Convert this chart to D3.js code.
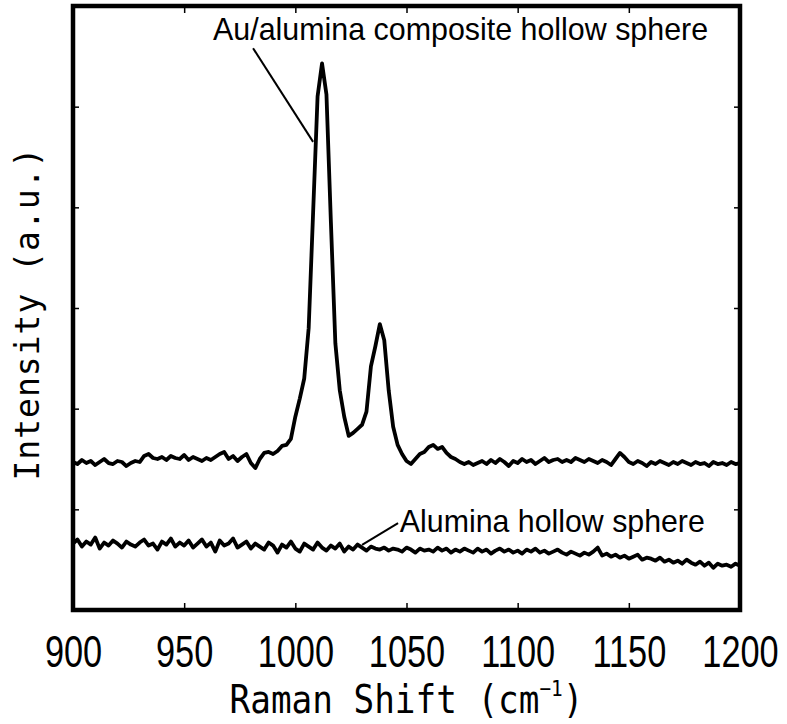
<!DOCTYPE html>
<html>
<head>
<meta charset="utf-8">
<script src="https://cdn.jsdelivr.net/npm/d3@7"></script>
<style>
  body { margin: 0; background: #fff; }
</style>
</head>
<body>
<div id="chart"></div>
<script>
const margin = {top: 6, right: 47, bottom: 114, left: 73},
      width = 787 - margin.left - margin.right,
      height = 724 - margin.top - margin.bottom;

// Raman shift grid (cm-1), 2 cm-1 steps
const ramanShift = [
  900,902,904,906,908,910,912,914,916,918,
  920,922,924,926,928,930,932,934,936,938,
  940,942,944,946,948,950,952,954,956,958,
  960,962,964,966,968,970,972,974,976,978,
  980,982,984,986,988,990,992,994,996,998,
  1000,1002,1004,1006,1008,1010,1012,1014,1016,1018,
  1020,1022,1024,1026,1028,1030,1032,1034,1036,1038,
  1040,1042,1044,1046,1048,1050,1052,1054,1056,1058,
  1060,1062,1064,1066,1068,1070,1072,1074,1076,1078,
  1080,1082,1084,1086,1088,1090,1092,1094,1096,1098,
  1100,1102,1104,1106,1108,1110,1112,1114,1116,1118,
  1120,1122,1124,1126,1128,1130,1132,1134,1136,1138,
  1140,1142,1144,1146,1148,1150,1152,1154,1156,1158,
  1160,1162,1164,1166,1168,1170,1172,1174,1176,1178,
  1180,1182,1184,1186,1188,1190,1192,1194,1196,1198,
  1200
];

// Au/alumina composite hollow sphere (a.u.)
const auAlumina = [
  1.47,1.45,1.49,1.46,1.48,1.44,1.47,1.50,1.46,1.45,
  1.48,1.47,1.43,1.46,1.48,1.47,1.53,1.55,1.51,1.50,
  1.52,1.49,1.53,1.51,1.50,1.54,1.49,1.52,1.50,1.48,
  1.51,1.49,1.52,1.55,1.57,1.50,1.53,1.48,1.52,1.55,
  1.46,1.41,1.50,1.56,1.57,1.55,1.58,1.63,1.64,1.70,
  1.92,2.10,2.30,2.80,3.95,5.10,5.43,5.12,3.85,2.65,
  2.18,1.92,1.73,1.76,1.80,1.84,1.97,2.42,2.62,2.84,
  2.68,2.18,1.82,1.64,1.55,1.48,1.45,1.50,1.55,1.57,
  1.62,1.64,1.60,1.62,1.56,1.52,1.50,1.47,1.45,1.47,
  1.44,1.46,1.48,1.45,1.49,1.46,1.50,1.47,1.43,1.48,
  1.46,1.50,1.47,1.49,1.45,1.48,1.51,1.47,1.49,1.50,
  1.47,1.49,1.47,1.51,1.49,1.47,1.50,1.48,1.46,1.49,
  1.47,1.44,1.50,1.56,1.52,1.47,1.45,1.48,1.46,1.43,
  1.47,1.45,1.48,1.46,1.44,1.47,1.45,1.48,1.46,1.44,
  1.47,1.45,1.46,1.43,1.47,1.45,1.46,1.44,1.47,1.45,
  1.46
];

// Alumina hollow sphere (a.u.)
const alumina = [
  0.66,0.70,0.63,0.68,0.65,0.72,0.61,0.67,0.64,0.69,
  0.66,0.62,0.68,0.65,0.63,0.67,0.70,0.64,0.66,0.60,
  0.68,0.65,0.71,0.63,0.67,0.64,0.69,0.62,0.66,0.70,
  0.63,0.67,0.58,0.69,0.64,0.66,0.71,0.62,0.65,0.68,
  0.61,0.66,0.63,0.60,0.67,0.64,0.57,0.65,0.62,0.68,
  0.61,0.58,0.66,0.63,0.60,0.67,0.62,0.59,0.64,0.61,
  0.66,0.58,0.63,0.60,0.65,0.62,0.59,0.63,0.61,0.60,
  0.62,0.59,0.61,0.60,0.58,0.62,0.60,0.57,0.61,0.59,
  0.60,0.58,0.62,0.59,0.61,0.57,0.60,0.58,0.61,0.59,
  0.57,0.61,0.58,0.60,0.56,0.59,0.61,0.58,0.60,0.57,
  0.59,0.56,0.60,0.58,0.61,0.57,0.59,0.56,0.58,0.60,
  0.57,0.55,0.58,0.56,0.54,0.57,0.55,0.58,0.62,0.54,
  0.56,0.53,0.55,0.52,0.54,0.51,0.53,0.55,0.50,0.52,
  0.51,0.49,0.52,0.48,0.50,0.47,0.49,0.46,0.50,0.47,
  0.45,0.48,0.44,0.47,0.42,0.46,0.44,0.45,0.43,0.46,
  0.44
];

const xTicks = [900, 950, 1000, 1050, 1100, 1150, 1200];
const yTicks = [1, 2, 3, 4, 5];

// labels: text, anchor point (shift, intensity), leader line ends
const labels = [
  {text: "Au/alumina composite hollow sphere", x: 963, y: 5.66, len: 495,
   line: [[981, 5.58], [1008, 4.65]]},
  {text: "Alumina hollow sphere", x: 1047, y: 0.775, len: 305,
   line: [[1046.2, 0.864], [1030, 0.646]]}
];

const svg = d3.select("#chart")
  .append("svg")
  .attr("width", width + margin.left + margin.right)
  .attr("height", height + margin.top + margin.bottom)
  .append("g")
  .attr("transform", `translate(${margin.left},${margin.top})`);

const x = d3.scaleLinear().domain([900, 1200]).range([0, width]);
const y = d3.scaleLinear().domain([0, 6]).range([height, 0]);

// spectra
const line = d3.line()
  .x((d, i) => x(ramanShift[i]))
  .y(d => y(d));

[auAlumina, alumina].forEach(series => {
  svg.append("path")
    .datum(series)
    .attr("d", line)
    .attr("fill", "none")
    .attr("stroke", "#000")
    .attr("stroke-width", 3.8)
    .attr("stroke-linejoin", "round");
});

// inward ticks on all four sides
svg.append("g")
  .attr("transform", `translate(0,${height})`)
  .call(d3.axisBottom(x).tickValues(xTicks).tickSizeInner(-7).tickSizeOuter(0).tickFormat(d3.format("d")))
  .call(g => g.select(".domain").remove())
  .call(g => g.selectAll("line").attr("stroke-width", 1.5))
  .call(g => g.selectAll("text")
    .attr("y", 57).attr("dy", 0)
    .attr("transform", "scale(0.78,1)")
    .attr("font-family", "'Liberation Sans', Arial, sans-serif")
    .attr("font-size", 44)
    .attr("fill", "#000"));

svg.append("g")
  .call(d3.axisTop(x).tickValues(xTicks).tickSizeInner(-7).tickSizeOuter(0).tickFormat(""))
  .call(g => g.select(".domain").remove())
  .call(g => g.selectAll("line").attr("stroke-width", 1.5));

svg.append("g")
  .call(d3.axisLeft(y).tickValues(yTicks).tickSizeInner(-6).tickSizeOuter(0).tickFormat(""))
  .call(g => g.select(".domain").remove())
  .call(g => g.selectAll("line").attr("stroke-width", 1.5));

svg.append("g")
  .attr("transform", `translate(${width},0)`)
  .call(d3.axisRight(y).tickValues(yTicks).tickSizeInner(-6).tickSizeOuter(0).tickFormat(""))
  .call(g => g.select(".domain").remove())
  .call(g => g.selectAll("line").attr("stroke-width", 1.5));

// frame
svg.append("rect")
  .attr("x", x(900))
  .attr("y", y(6))
  .attr("width", x(1200) - x(900))
  .attr("height", y(0) - y(6))
  .attr("fill", "none")
  .attr("stroke", "#000")
  .attr("stroke-width", 4.5);

// annotations
labels.forEach(l => {
  svg.append("line")
    .attr("x1", x(l.line[0][0])).attr("y1", y(l.line[0][1]))
    .attr("x2", x(l.line[1][0])).attr("y2", y(l.line[1][1]))
    .attr("stroke", "#000")
    .attr("stroke-width", 2);
  svg.append("text")
    .attr("x", x(l.x))
    .attr("y", y(l.y))
    .attr("font-family", "'Liberation Sans', Arial, sans-serif")
    .attr("font-size", 32)
    .attr("textLength", l.len)
    .attr("lengthAdjust", "spacingAndGlyphs")
    .text(l.text);
});

// axis titles
const title = svg.append("text")
  .attr("transform", `translate(${width / 2},707) scale(0.88,1)`)
  .attr("text-anchor", "middle")
  .attr("font-family", "'DejaVu Sans Mono', monospace")
  .attr("font-size", 39);
title.append("tspan").text("Raman Shift (cm");
title.append("tspan").attr("font-size", 22).attr("dy", -17).text("−1");
title.append("tspan").attr("dy", 17).text(")");

svg.append("text")
  .attr("transform", `translate(${39 - margin.left},${y(3) + 6}) rotate(-90)`)
  .attr("text-anchor", "middle")
  .attr("font-family", "'DejaVu Sans Mono', monospace")
  .attr("font-size", 33)
  .attr("textLength", 333)
  .attr("lengthAdjust", "spacing")
  .text("Intensity (a.u.)");
</script>
</body>
</html>
